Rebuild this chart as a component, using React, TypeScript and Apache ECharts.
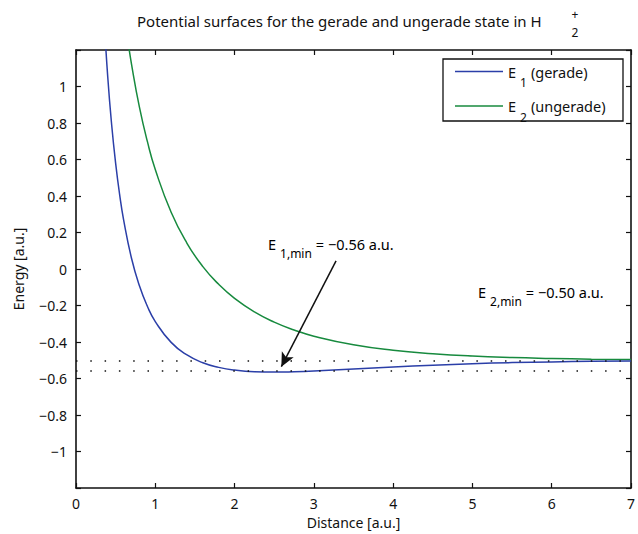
import React, { useEffect, useRef } from "react";
import * as echarts from "echarts";

// Internuclear distance samples [a.u.] and energies [a.u.]
const geradeDist = [0.35, 0.4, 0.45, 0.5, 0.55, 0.6, 0.7, 0.8, 0.9, 1.0, 1.2, 1.4, 1.6, 1.8, 2.0, 2.25, 2.5, 2.75, 3.0, 3.5, 4.0, 4.5, 5.0, 5.5, 6.0, 6.5, 7.0];
const geradeE = [1.401, 1.055, 0.789, 0.579, 0.409, 0.271, 0.059, -0.092, -0.204, -0.288, -0.402, -0.471, -0.514, -0.539, -0.554, -0.563, -0.565, -0.563, -0.559, -0.548, -0.537, -0.527, -0.519, -0.513, -0.509, -0.506, -0.504];
const ungeradeDist = [0.6, 0.65, 0.7, 0.8, 0.9, 1.0, 1.2, 1.4, 1.6, 1.8, 2.0, 2.25, 2.5, 2.75, 3.0, 3.5, 4.0, 4.5, 5.0, 5.5, 6.0, 6.5, 7.0];
const ungeradeE = [1.427, 1.265, 1.123, 0.887, 0.699, 0.545, 0.311, 0.141, 0.013, -0.084, -0.161, -0.235, -0.291, -0.334, -0.368, -0.415, -0.445, -0.464, -0.477, -0.485, -0.49, -0.494, -0.496];
const seriesNames = ["E1 (gerade)", "E2 (ungerade)"];
const minLevels = [-0.5, -0.565];
const arrowStart = [3.28, 0.045];
const arrowEnd = [2.59, -0.535];

const FONT = '"Noto Sans", "DejaVu Sans", sans-serif';
const INK = "#111111";
const BLUE = "#2b3fa8";
const GREEN = "#178a3e";

export default function App() {
  const ref = useRef<HTMLDivElement>(null);
  useEffect(() => {
    document.body.style.margin = "0";
    const chart = echarts.init(ref.current!, null, { renderer: "svg" });
    const axisLine = { show: true, onZero: false, lineStyle: { color: INK, width: 1.6 } };
    const axisTick = { show: true, inside: true, length: 5, lineStyle: { color: INK, width: 1.2 } };
    const rich: any = {
      m: { fontFamily: FONT, fontSize: 14.5, lineHeight: 30, verticalAlign: "middle", color: INK },
      s: { fontFamily: FONT, fontSize: 12, lineHeight: 10, verticalAlign: "bottom", color: INK, padding: [0, 4, 0, 4] },
    };
    const legendRich: any = {
      m: { fontFamily: FONT, fontSize: 14.5, lineHeight: 34, verticalAlign: "middle", color: INK },
      s: { fontFamily: FONT, fontSize: 12, lineHeight: 10, verticalAlign: "bottom", color: INK, padding: [0, 4, 0, 4] },
    };
    const yFmt = (v: number) => {
      const r = Math.round(v * 10) / 10;
      if (Math.abs(r) > 1.05) return "";
      return String(r).replace("-", "\u2212");
    };
    const labelStyle = { fontFamily: FONT, fontSize: 14, color: INK };
    chart.setOption({
      animation: false,
      backgroundColor: "#ffffff",
      grid: { left: 76, right: 4, top: 50, bottom: 44.5, containLabel: false },
      xAxis: [
        {
          type: "value", min: 0, max: 7, interval: 1, position: "bottom",
          axisLine, axisTick, splitLine: { show: false },
          axisLabel: { ...labelStyle, margin: 8 },
          name: "Distance [a.u.]", nameLocation: "middle", nameGap: 27,
          nameTextStyle: labelStyle,
        },
        {
          type: "value", min: 0, max: 7, interval: 1, position: "top",
          axisLine, axisTick, splitLine: { show: false }, axisLabel: { show: false },
        },
      ],
      yAxis: [
        {
          type: "value", min: -1.2, max: 1.2, interval: 0.2, position: "left",
          axisLine, axisTick, splitLine: { show: false },
          axisLabel: { ...labelStyle, margin: 9, formatter: yFmt },
          name: "Energy [a.u.]", nameLocation: "middle", nameGap: 51,
          nameTextStyle: labelStyle,
        },
        {
          type: "value", min: -1.2, max: 1.2, interval: 0.2, position: "right",
          axisLine, axisTick, splitLine: { show: false }, axisLabel: { show: false },
        },
      ],
      legend: {
        orient: "vertical", left: 455, top: 64, padding: 0, itemGap: 10,
        itemWidth: 48, itemHeight: 1.5, icon: "rect",
        data: seriesNames,
        formatter: (name: string) =>
          name === seriesNames[0] ? "{m|E}{s|1}{m|(gerade)}" : "{m|E}{s|2}{m|(ungerade)}",
        textStyle: { color: INK, rich: legendRich },
        selectedMode: false,
      },
      series: [
        {
          name: seriesNames[0], type: "line", xAxisIndex: 0, yAxisIndex: 0,
          data: geradeDist.map((d, i) => [d, geradeE[i]]),
          color: BLUE, showSymbol: false, smooth: 0.5,
          lineStyle: { color: BLUE, width: 1.5 }, z: 3,
          markLine: {
            silent: true, animation: false, symbol: ["none", "arrow"], symbolSize: [10, 14],
            label: { show: false },
            lineStyle: { color: INK, width: 1.5, type: "solid" },
            data: [[{ coord: arrowStart }, { coord: arrowEnd }]],
          },
        },
        {
          name: seriesNames[1], type: "line", xAxisIndex: 0, yAxisIndex: 0,
          data: ungeradeDist.map((d, i) => [d, ungeradeE[i]]),
          color: GREEN, showSymbol: false, smooth: 0.5,
          lineStyle: { color: GREEN, width: 1.5 }, z: 2,
          markLine: {
            silent: true, animation: false, symbol: "none",
            label: { show: false },
            lineStyle: { color: INK, width: 1.5, type: [1.5, 12.8], cap: "butt" },
            data: minLevels.map((v) => ({ yAxis: v })),
          },
        },
      ],
      graphic: [
        {
          type: "rect", z: 3,
          shape: { x: 443, y: 59, width: 180, height: 62 },
          style: { fill: "#ffffff", stroke: INK, lineWidth: 1.3 },
        },
        {
          type: "text", z: 5,
          style: {
            x: 137, y: 21, text: "Potential surfaces for the gerade and ungerade state in H",
            fontFamily: FONT, fontSize: 15, fill: INK, verticalAlign: "middle", align: "left",
          },
        },
        {
          type: "text", z: 5,
          style: { x: 575, y: 14, text: "+", fontFamily: FONT, fontSize: 12, fill: INK, verticalAlign: "middle", align: "center" },
        },
        {
          type: "text", z: 5,
          style: { x: 575, y: 32, text: "2", fontFamily: FONT, fontSize: 12, fill: INK, verticalAlign: "middle", align: "center" },
        },
        {
          type: "text", z: 5,
          style: { x: 268, y: 229, text: "{m|E}{s|1,min}{m|= \u22120.56 a.u.}", rich, verticalAlign: "top", align: "left" },
        },
        {
          type: "text", z: 5,
          style: { x: 478, y: 277, text: "{m|E}{s|2,min}{m|= \u22120.50 a.u.}", rich, verticalAlign: "top", align: "left" },
        },
      ],
    });
    return () => chart.dispose();
  }, []);
  return <div ref={ref} style={{ width: 638, height: 534 }} />;
}
